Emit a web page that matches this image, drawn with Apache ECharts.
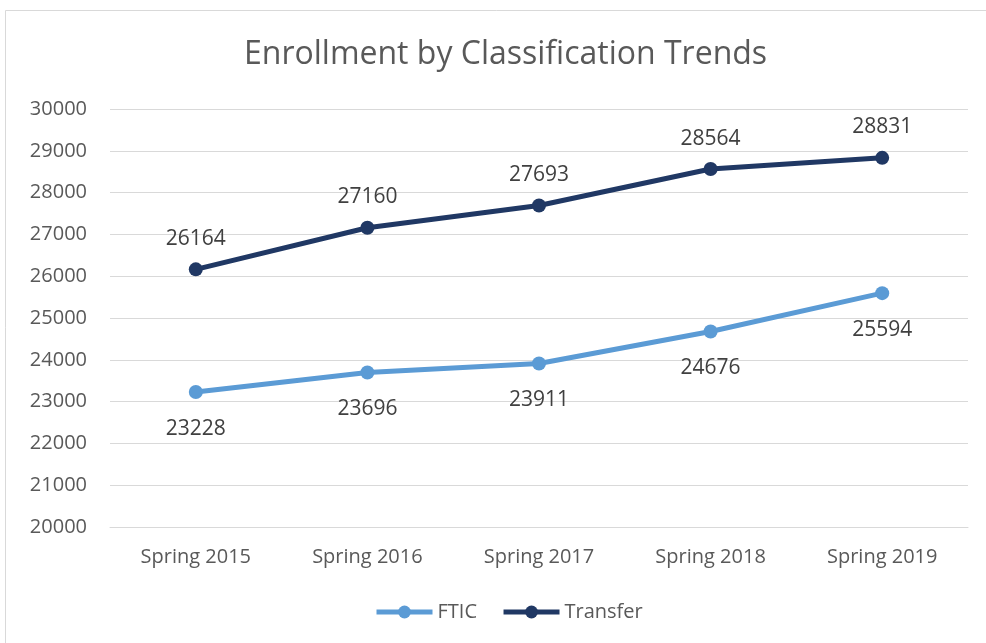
<!DOCTYPE html>
<html>
<head>
<meta charset="utf-8">
<script src="https://cdn.jsdelivr.net/npm/echarts@6/dist/echarts.min.js"></script>
<style>
  html, body { margin: 0; padding: 0; background: #fff; }
  #chart { width: 986px; height: 643px; }
</style>
</head>
<body>
<div id="chart"></div>
<script>
var categories = ['Spring 2015', 'Spring 2016', 'Spring 2017', 'Spring 2018', 'Spring 2019'];
var ftic = [23228, 23696, 23911, 24676, 25594];
var transfer = [26164, 27160, 27693, 28564, 28831];

var font = '"Open Sans", "Noto Sans", sans-serif';
var chart = echarts.init(document.getElementById('chart'));
chart.setOption({
    backgroundColor: '#fff',
    animation: false,
    textStyle: { fontFamily: font },
    graphic: [{
        type: 'rect',
        shape: { x: 5.5, y: 10.5, width: 1000, height: 700 },
        style: { fill: 'none', stroke: '#d9d9d9', lineWidth: 1 }
    }],
    title: {
        text: 'Enrollment by Classification Trends',
        left: 239,
        top: 34,
        textStyle: { color: '#595959', fontSize: 32, fontWeight: 'normal', fontFamily: font }
    },
    legend: {
        data: ['FTIC', 'Transfer'],
        bottom: 16,
        left: 369,
        itemWidth: 56,
        itemHeight: 16,
        itemGap: 24,
        lineStyle: { width: 5 },
        textStyle: { color: '#595959', fontSize: 20, fontFamily: font }
    },
    grid: { left: 110, right: 18, top: 109, bottom: 116 },
    xAxis: {
        type: 'category',
        data: categories,
        axisLine: { lineStyle: { color: '#d9d9d9', width: 1 } },
        axisTick: { show: false },
        axisLabel: { color: '#595959', fontSize: 20, margin: 20, fontFamily: font }
    },
    yAxis: {
        type: 'value',
        min: 20000,
        max: 30000,
        interval: 1000,
        axisLine: { show: false },
        axisTick: { show: false },
        splitLine: { lineStyle: { color: '#d9d9d9', width: 1 } },
        axisLabel: {
            color: '#595959', fontSize: 20, margin: 23, fontFamily: font,
            formatter: function (v) { return String(v); }
        }
    },
    series: [
        {
            name: 'FTIC',
            type: 'line',
            data: ftic,
            symbol: 'circle',
            symbolSize: 14,
            color: '#5b9bd5',
            lineStyle: { width: 5, color: '#5b9bd5' },
            itemStyle: { color: '#5b9bd5' },
            label: { show: true, position: 'bottom', distance: 19, color: '#404040', fontSize: 21, fontFamily: font }
        },
        {
            name: 'Transfer',
            type: 'line',
            data: transfer,
            symbol: 'circle',
            symbolSize: 14,
            color: '#203864',
            lineStyle: { width: 5, color: '#203864' },
            itemStyle: { color: '#203864' },
            label: { show: true, position: 'top', distance: 13, color: '#404040', fontSize: 21, fontFamily: font }
        }
    ]
});
</script>
</body>
</html>
